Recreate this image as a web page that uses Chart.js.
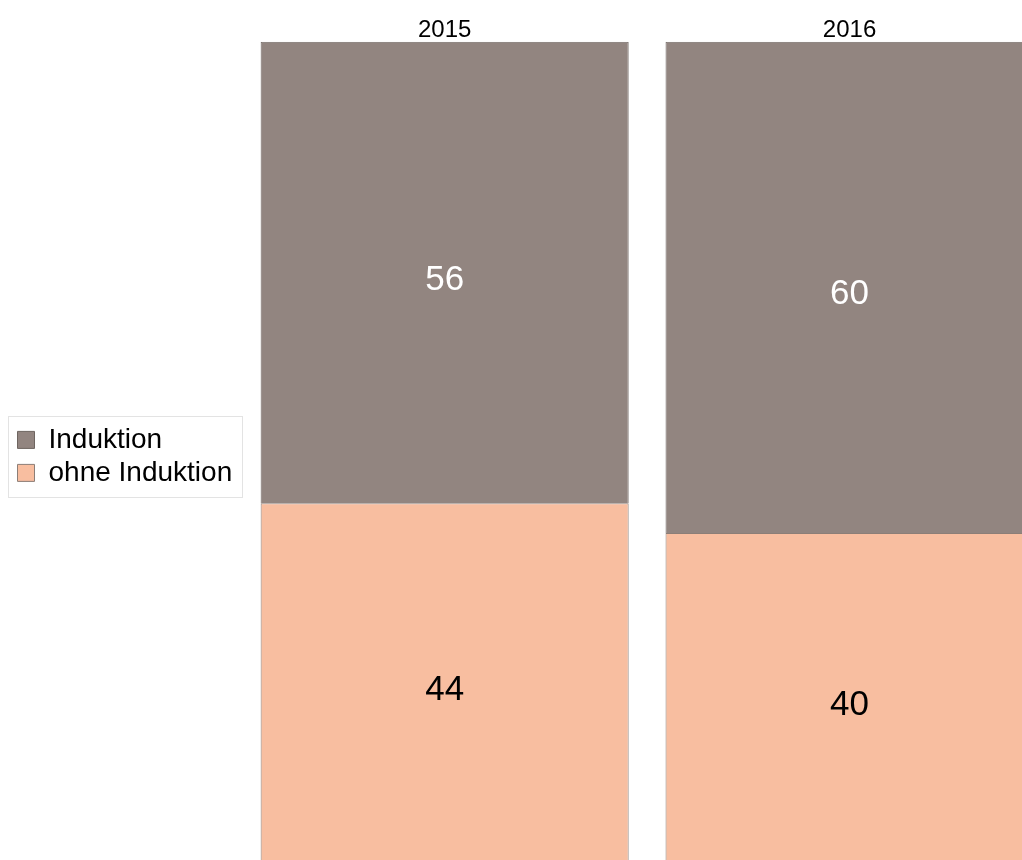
<!DOCTYPE html>
<html>
<head>
<meta charset="utf-8">
<script src="https://cdn.jsdelivr.net/npm/chart.js@4/dist/chart.umd.min.js"></script>
<style>
  html, body { margin: 0; padding: 0; background: #fff; overflow: hidden; }
  #wrap { position: absolute; left: 0; top: 0; width: 1052px; height: 863px; }
</style>
</head>
<body>
<div id="wrap"><canvas id="myChart"></canvas></div>
<script>
const years = ['2015', '2016'];
const seriesNames = ['Induktion', 'ohne Induktion'];
// shares in percent, labels are shown rounded
const induktion = [56.2, 59.8];
const ohneInduktion = [43.8, 40.2];

const colInduktion = '#928580';
const colOhne = '#f8bea0';

// nudge the legend a bit lower and draw a box around it
const legendBox = {
    id: 'legendBox',
    afterLayout(chart) {
        const lg = chart.legend;
        if (!lg) return;
        lg.top += 4;
        lg.bottom += 4;
    },
    afterDraw(chart) {
        const lg = chart.legend;
        if (!lg || !lg.legendHitBoxes.length) return;
        const boxes = lg.legendHitBoxes;
        let l = Infinity, t = Infinity, r = -Infinity, b = -Infinity;
        boxes.forEach(h => {
            l = Math.min(l, h.left); t = Math.min(t, h.top);
            r = Math.max(r, h.left + h.width); b = Math.max(b, h.top + h.height);
        });
        const ctx = chart.ctx;
        ctx.save();
        ctx.strokeStyle = '#e3e3e3';
        ctx.lineWidth = 1;
        ctx.strokeRect(Math.round(l - 10) + 0.5, Math.round(t - 10) + 0.5, Math.round(r - l + 19), Math.round(b - t + 20));
        ctx.restore();
    }
};

// value labels in the middle of each segment
const valueLabels = {
    id: 'valueLabels',
    afterDatasetsDraw(chart) {
        const ctx = chart.ctx;
        ctx.save();
        ctx.font = '35px "Liberation Sans", Arial, sans-serif';
        ctx.textAlign = 'center';
        ctx.textBaseline = 'middle';
        chart.data.datasets.forEach((ds, i) => {
            const meta = chart.getDatasetMeta(i);
            meta.data.forEach((bar, j) => {
                const p = bar.getProps(['x', 'y', 'base'], true);
                ctx.fillStyle = ds.labelColor;
                ctx.fillText(String(Math.round(ds.data[j])), p.x, (p.y + p.base) / 2 + 7.5);
            });
        });
        ctx.restore();
    }
};

new Chart(document.getElementById('myChart'), {
    type: 'bar',
    data: {
        labels: years,
        datasets: [
            {
                label: seriesNames[1],
                data: ohneInduktion,
                backgroundColor: colOhne,
                borderColor: '#8c7e77',
                borderWidth: 1,
                labelColor: '#000000'
            },
            {
                label: seriesNames[0],
                data: induktion,
                backgroundColor: colInduktion,
                borderColor: '#6e6560',
                borderWidth: 1,
                labelColor: '#ffffff'
            }
        ]
    },
    options: {
        responsive: true,
        maintainAspectRatio: false,
        animation: false,
        barPercentage: 1,
        categoryPercentage: 0.909,
        layout: { padding: { left: 12.5, top: 19, right: 0, bottom: 0 } },
        scales: {
            x: {
                stacked: true,
                position: 'top',
                grid: { display: false, drawTicks: false },
                border: { display: false },
                ticks: {
                    color: '#000',
                    padding: -3,
                    font: { family: '"Liberation Sans", Arial, sans-serif', size: 24 }
                }
            },
            y: {
                stacked: true,
                min: 0,
                max: 100,
                display: false
            }
        },
        plugins: {
            tooltip: { enabled: false },
            legend: {
                position: 'left',
                fullSize: false,
                reverse: true,
                labels: {
                    color: '#000',
                    boxWidth: 17,
                    boxHeight: 17,
                    padding: 5,
                    font: { family: '"Liberation Sans", Arial, sans-serif', size: 28 }
                }
            }
        }
    },
    plugins: [legendBox, valueLabels]
});
</script>
</body>
</html>
